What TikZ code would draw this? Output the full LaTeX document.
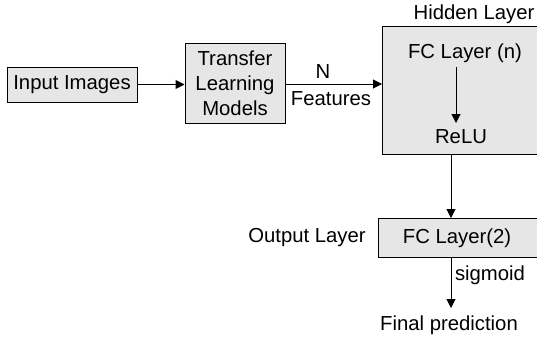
\documentclass[tikz,border=0pt]{standalone}
\usepackage{fontspec}
\setmainfont{Liberation Sans}
\usetikzlibrary{arrows.meta}
\definecolor{boxfill}{HTML}{E6E6E6}
\begin{document}
\begin{tikzpicture}[x=1pt,y=-1pt,
  every node/.style={font=\fontsize{20.3}{25}\selectfont, inner sep=0pt},
  blk/.style={draw=black, line width=1pt, fill=boxfill},
  conn/.style={line width=1pt, -{Triangle[length=9pt,width=9pt]}}]
\useasboundingbox (0,0) rectangle (537,337);
% boxes
\node[blk, minimum width=130pt, minimum height=35pt] (inp) at (72,84.5) {Input Images};
\node[blk, minimum width=100pt, minimum height=79pt, align=center] (tl) at (235,83.5) {Transfer\\Learning\\Models};
\draw[blk] (382,27) rectangle (538,154);
\coordinate (hidL) at (382,84);
\coordinate (hidB) at (451,154);
\node (hidlbl) at (474,14) {Hidden Layer};
\node (fcn) at (465,53) {FC Layer (n)};
\node (relu) at (461,137) {ReLU};
\draw[blk] (378,218) rectangle (538,257);
\coordinate (outT) at (451,218);
\coordinate (outB) at (451,257);
\node (fc2) at (457,238) {FC Layer(2)};
\node (outlbl) at (307,238) {Output Layer};
\node (sig) at (490,275) {sigmoid};
\node (final) at (449,325) {Final prediction};
\coordinate (finT) at (451,308);
% labels on N features
\node (nlbl) at (323,72) {N};
\node (feat) at (331,99) {Features};
% connectors
\draw[conn] (inp.east) -- (inp.east -| tl.west);
\draw[conn] (tl.east |- hidL) -- (hidL);
\draw[conn] (456,67) -- (456,123);
\draw[conn] (hidB) -- (outT);
\draw[conn] (outB) -- (finT);
\end{tikzpicture}
\end{document}
